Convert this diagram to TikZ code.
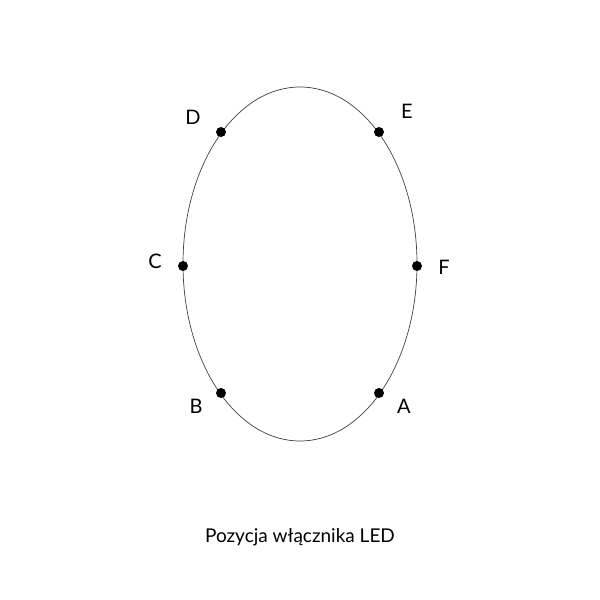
\documentclass[tikz,border=0pt]{standalone}
\usepackage{fontspec}
\setmainfont{Lato}
\begin{document}
\begin{tikzpicture}[x=1pt,y=-1pt,
  dot/.style={circle,fill=black,inner sep=0pt,minimum size=10pt},
  lbl/.style={font=\fontsize{20}{24}\selectfont,inner sep=0pt},
  captext/.style={font=\fontsize{19}{22}\selectfont,inner sep=0pt}]
\useasboundingbox[fill=white] (0,0) rectangle (600,600);
\draw[line width=0.7pt,black!75] (300,264) ellipse [x radius=117, y radius=177];
\node[dot] (pD) at (221,132) {};
\node[dot] (pE) at (379,132) {};
\node[dot] (pC) at (183,266) {};
\node[dot] (pF) at (417,266) {};
\node[dot] (pB) at (221,393) {};
\node[dot] (pA) at (379,393) {};
\node[lbl] (lD) at (193,117) {D};
\node[lbl] (lE) at (407,111) {E};
\node[lbl] (lC) at (155,261) {C};
\node[lbl] (lF) at (444,267) {F};
\node[lbl] (lB) at (196,406) {B};
\node[lbl] (lA) at (404,406) {A};
\node[captext] (title) at (300,537) {Pozycja włącznika LED};
\end{tikzpicture}
\end{document}
